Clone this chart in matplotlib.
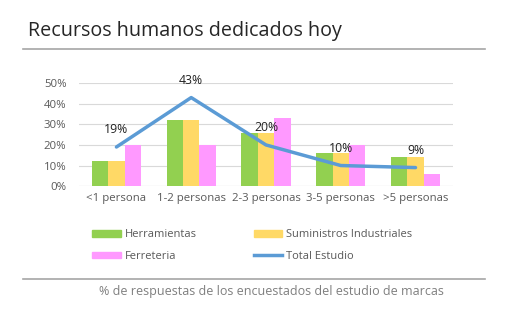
import matplotlib
matplotlib.use("Agg")
import matplotlib.pyplot as plt
import numpy as np
from matplotlib.lines import Line2D
from matplotlib.patches import Patch

plt.rcParams['font.family'] = ['Open Sans', 'DejaVu Sans']

categories = ["<1 persona", "1-2 personas", "2-3 personas", "3-5 personas", ">5 personas"]
herramientas = [0.12, 0.32, 0.26, 0.16, 0.14]
suministros = [0.12, 0.32, 0.26, 0.16, 0.14]
ferreteria = [0.20, 0.20, 0.33, 0.20, 0.06]
total = [0.19, 0.43, 0.20, 0.10, 0.09]
total_labels = ["19%", "43%", "20%", "10%", "9%"]
yticks = [0, 0.1, 0.2, 0.3, 0.4, 0.5]
ytick_labels = ["0%", "10%", "20%", "30%", "40%", "50%"]

c_green = "#92D050"
c_yellow = "#FFD966"
c_pink = "#FF99FF"
c_blue = "#5B9BD5"
c_tick = "#595959"

fig = plt.figure(figsize=(5.1, 3.3), dpi=100)
ax = fig.add_axes([0.155, 0.436, 0.733, 0.312])

x = np.arange(len(categories))
w = 0.22
ax.bar(x - w, herramientas, w, color=c_green, zorder=2)
ax.bar(x, suministros, w, color=c_yellow, zorder=2)
ax.bar(x + w, ferreteria, w, color=c_pink, zorder=2)
ax.plot(x, total, color=c_blue, lw=2.5, zorder=3, solid_capstyle='round')

for xi, v, lab in zip(x, total, total_labels):
    ax.text(xi, v + 0.083, lab, ha='center', va='center', fontsize=8.8,
            color='#222222', zorder=4)

ax.set_xlim(-0.5, 4.5)
ax.set_ylim(0, 0.5)
ax.set_yticks(yticks)
ax.set_yticklabels(ytick_labels)
ax.set_xticks(x)
ax.set_xticklabels(categories)
ax.tick_params(axis='both', length=0, labelsize=8.2, labelcolor=c_tick)
ax.tick_params(axis='x', pad=5)
ax.tick_params(axis='y', pad=9)
ax.grid(axis='y', color='#D9D9D9', lw=0.8, zorder=0)
for s in ax.spines.values():
    s.set_visible(False)
ax.axhline(0, color='#D9D9D9', lw=0.8, zorder=1)

handles = [Patch(color=c_green), Patch(color=c_yellow), Patch(color=c_pink),
           Line2D([0], [0], color=c_blue, lw=2.5)]
labels = ["Herramientas", "Suministros Industriales", "Ferreteria", "Total Estudio"]
order = [0, 2, 1, 3]
leg = fig.legend([handles[i] for i in order], [labels[i] for i in order], ncol=2,
                 loc='upper left', bbox_to_anchor=(0.161, 0.335), frameon=False,
                 fontsize=8, labelcolor=c_tick, handlelength=2.6, handleheight=0.55,
                 handletextpad=0.35, columnspacing=5.1, labelspacing=0.95)

fig.text(0.055, 0.905, "Recursos humanos dedicados hoy", fontsize=14.2, color='#262626',
         ha='left', va='center')
fig.add_artist(Line2D([0.045, 0.951], [0.852, 0.852], color='#A6A6A6', lw=1.2))
fig.add_artist(Line2D([0.045, 0.951], [0.155, 0.155], color='#A6A6A6', lw=1.2))
fig.text(0.532, 0.118, "% de respuestas de los encuestados del estudio de marcas",
         fontsize=9, color='#7F7F7F', ha='center', va='center')

fig.savefig("out.png", dpi=100)
